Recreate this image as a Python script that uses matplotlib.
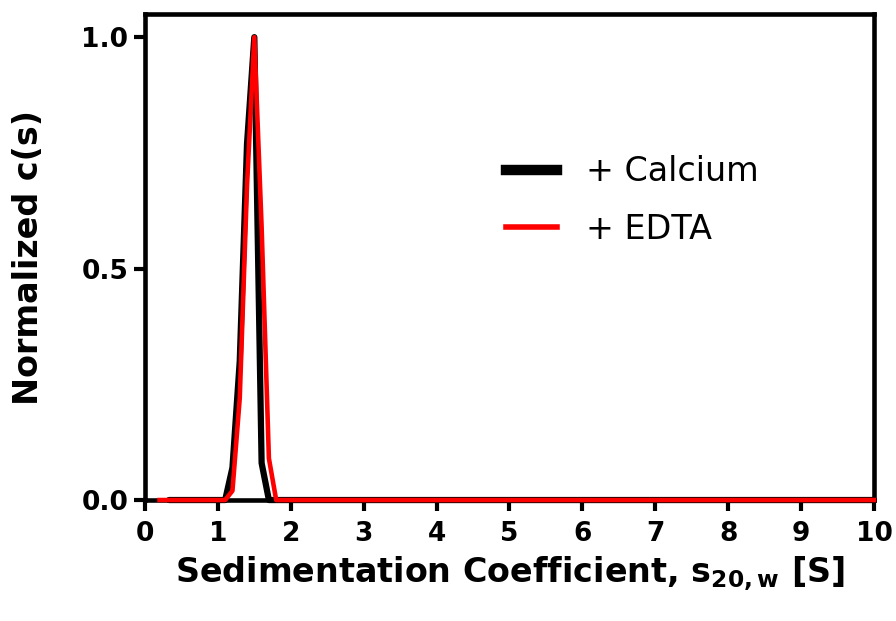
import numpy as np
import matplotlib
matplotlib.use("Agg")
import matplotlib.pyplot as plt
from matplotlib.lines import Line2D

plt.rcParams["font.family"] = ["DejaVu Sans"]
plt.rcParams["mathtext.fontset"] = "dejavusans"

# --- data ---
s_calcium = [0.33, 1.1, 1.2, 1.3, 1.4, 1.5, 1.6, 1.7, 10.0]
c_calcium = [0.0, 0.0, 0.07, 0.30, 0.77, 1.0, 0.08, 0.0, 0.0]

s_edta = [0.2, 1.1, 1.2, 1.3, 1.4, 1.5, 1.6, 1.7, 1.8, 10.0]
c_edta = [0.0, 0.0, 0.02, 0.22, 0.68, 1.0, 0.59, 0.09, 0.0, 0.0]

x_ticks = list(range(0, 11))
y_ticks = [0.0, 0.5, 1.0]
labels = ["+ Calcium", "+ EDTA"]

fig = plt.figure(figsize=(8.96, 6.21), dpi=100)
ax = fig.add_axes([0.1618, 0.1948, 0.8136, 0.7826])

ax.plot(s_calcium, c_calcium, color="black", linewidth=4.5, solid_joinstyle="round",
        solid_capstyle="round", clip_on=False, zorder=3)
ax.plot(s_edta, c_edta, color="#ff0000", linewidth=3.3, solid_joinstyle="round",
        clip_on=False, zorder=4)

ax.set_xlim(0, 10)
ax.set_ylim(0, 1.05)
ax.set_xticks(x_ticks)
ax.set_xticklabels([str(t) for t in x_ticks])
ax.set_yticks(y_ticks)
ax.set_yticklabels([f"{t:.1f}" for t in y_ticks])

for side in ["left", "right", "top", "bottom"]:
    ax.spines[side].set_linewidth(3.3)
ax.tick_params(axis="both", width=3.0, length=8, labelsize=19)
ax.tick_params(axis="x", pad=7)
ax.tick_params(axis="y", pad=4)
for lab in ax.get_xticklabels() + ax.get_yticklabels():
    lab.set_fontweight("bold")

ax.set_xlabel(r"Sedimentation Coefficient, $\mathbf{s_{20,w}}$ [S]",
              fontsize=24, fontweight="bold", labelpad=6)
ax.set_ylabel("Normalized c(s)", fontsize=24, fontweight="bold", labelpad=26)

handles = [Line2D([], [], color="black", linewidth=7.5),
           Line2D([], [], color="#ff0000", linewidth=4.0)]
ax.legend(handles, labels, loc="upper left", bbox_to_anchor=(0.495, 0.709),
          frameon=False, fontsize=24, borderpad=0, borderaxespad=0,
          handlelength=1.55, handletextpad=0.85, labelspacing=0.74)

fig.savefig("out.png", dpi=100)
